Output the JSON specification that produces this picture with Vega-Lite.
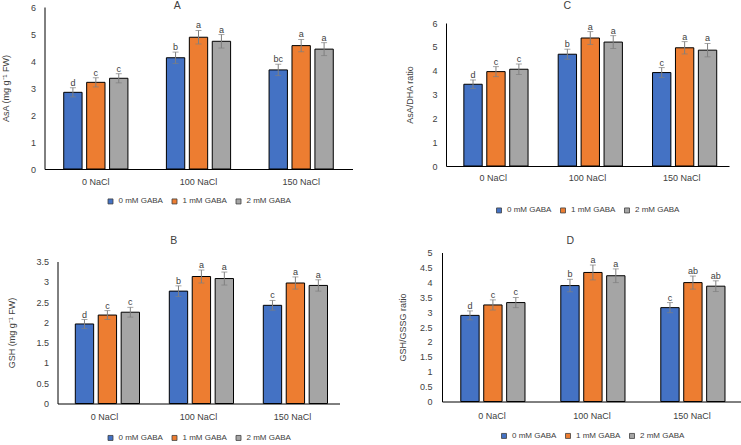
{
  "$schema": "https://vega.github.io/schema/vega-lite/v6.json",
  "padding": {"left": -52, "top": -1, "right": 0, "bottom": 0},
  "spacing": 19.5,
  "resolve": {"scale": {"color": "independent"}, "legend": {"color": "independent"}},
  "datasets": {
    "asa": [
      {"nacl": "0 NaCl", "gaba": "0 mM GABA", "mean": 2.84, "lo": 2.67, "hi": 3.01, "sig": "d"},
      {"nacl": "0 NaCl", "gaba": "1 mM GABA", "mean": 3.21, "lo": 3.04, "hi": 3.38, "sig": "c"},
      {"nacl": "0 NaCl", "gaba": "2 mM GABA", "mean": 3.36, "lo": 3.19, "hi": 3.53, "sig": "c"},
      {"nacl": "100 NaCl", "gaba": "0 mM GABA", "mean": 4.12, "lo": 3.91, "hi": 4.33, "sig": "b"},
      {"nacl": "100 NaCl", "gaba": "1 mM GABA", "mean": 4.88, "lo": 4.63, "hi": 5.13, "sig": "a"},
      {"nacl": "100 NaCl", "gaba": "2 mM GABA", "mean": 4.73, "lo": 4.48, "hi": 4.98, "sig": "a"},
      {"nacl": "150 NaCl", "gaba": "0 mM GABA", "mean": 3.67, "lo": 3.46, "hi": 3.88, "sig": "bc"},
      {"nacl": "150 NaCl", "gaba": "1 mM GABA", "mean": 4.57, "lo": 4.34, "hi": 4.80, "sig": "a"},
      {"nacl": "150 NaCl", "gaba": "2 mM GABA", "mean": 4.44, "lo": 4.20, "hi": 4.68, "sig": "a"}
    ],
    "asaDha": [
      {"nacl": "0 NaCl", "gaba": "0 mM GABA", "mean": 3.43, "lo": 3.25, "hi": 3.61, "sig": "d"},
      {"nacl": "0 NaCl", "gaba": "1 mM GABA", "mean": 3.96, "lo": 3.75, "hi": 4.17, "sig": "c"},
      {"nacl": "0 NaCl", "gaba": "2 mM GABA", "mean": 4.06, "lo": 3.84, "hi": 4.28, "sig": "c"},
      {"nacl": "100 NaCl", "gaba": "0 mM GABA", "mean": 4.69, "lo": 4.48, "hi": 4.90, "sig": "b"},
      {"nacl": "100 NaCl", "gaba": "1 mM GABA", "mean": 5.37, "lo": 5.10, "hi": 5.64, "sig": "a"},
      {"nacl": "100 NaCl", "gaba": "2 mM GABA", "mean": 5.20, "lo": 4.93, "hi": 5.47, "sig": "a"},
      {"nacl": "150 NaCl", "gaba": "0 mM GABA", "mean": 3.92, "lo": 3.71, "hi": 4.13, "sig": "c"},
      {"nacl": "150 NaCl", "gaba": "1 mM GABA", "mean": 4.96, "lo": 4.70, "hi": 5.22, "sig": "a"},
      {"nacl": "150 NaCl", "gaba": "2 mM GABA", "mean": 4.86, "lo": 4.58, "hi": 5.14, "sig": "a"}
    ],
    "gsh": [
      {"nacl": "0 NaCl", "gaba": "0 mM GABA", "mean": 1.96, "lo": 1.85, "hi": 2.07, "sig": "d"},
      {"nacl": "0 NaCl", "gaba": "1 mM GABA", "mean": 2.18, "lo": 2.07, "hi": 2.29, "sig": "c"},
      {"nacl": "0 NaCl", "gaba": "2 mM GABA", "mean": 2.25, "lo": 2.13, "hi": 2.37, "sig": "c"},
      {"nacl": "100 NaCl", "gaba": "0 mM GABA", "mean": 2.77, "lo": 2.64, "hi": 2.90, "sig": "b"},
      {"nacl": "100 NaCl", "gaba": "1 mM GABA", "mean": 3.13, "lo": 2.97, "hi": 3.29, "sig": "a"},
      {"nacl": "100 NaCl", "gaba": "2 mM GABA", "mean": 3.08, "lo": 2.92, "hi": 3.24, "sig": "a"},
      {"nacl": "150 NaCl", "gaba": "0 mM GABA", "mean": 2.42, "lo": 2.30, "hi": 2.54, "sig": "c"},
      {"nacl": "150 NaCl", "gaba": "1 mM GABA", "mean": 2.97, "lo": 2.82, "hi": 3.12, "sig": "a"},
      {"nacl": "150 NaCl", "gaba": "2 mM GABA", "mean": 2.91, "lo": 2.77, "hi": 3.05, "sig": "a"}
    ],
    "gshGssg": [
      {"nacl": "0 NaCl", "gaba": "0 mM GABA", "mean": 2.89, "lo": 2.74, "hi": 3.04, "sig": "d"},
      {"nacl": "0 NaCl", "gaba": "1 mM GABA", "mean": 3.24, "lo": 3.07, "hi": 3.41, "sig": "c"},
      {"nacl": "0 NaCl", "gaba": "2 mM GABA", "mean": 3.32, "lo": 3.15, "hi": 3.49, "sig": "c"},
      {"nacl": "100 NaCl", "gaba": "0 mM GABA", "mean": 3.89, "lo": 3.68, "hi": 4.10, "sig": "b"},
      {"nacl": "100 NaCl", "gaba": "1 mM GABA", "mean": 4.33, "lo": 4.08, "hi": 4.58, "sig": "a"},
      {"nacl": "100 NaCl", "gaba": "2 mM GABA", "mean": 4.22, "lo": 3.99, "hi": 4.45, "sig": "a"},
      {"nacl": "150 NaCl", "gaba": "0 mM GABA", "mean": 3.15, "lo": 2.98, "hi": 3.32, "sig": "c"},
      {"nacl": "150 NaCl", "gaba": "1 mM GABA", "mean": 3.99, "lo": 3.77, "hi": 4.21, "sig": "ab"},
      {"nacl": "150 NaCl", "gaba": "2 mM GABA", "mean": 3.87, "lo": 3.69, "hi": 4.05, "sig": "ab"}
    ]
  },
  "vconcat": [
    {
      "columns": 3,
      "align": "none",
      "spacing": {"row": 0, "column": 52.5},
      "resolve": {"scale": {"color": "independent"}, "legend": {"color": "independent"}},
      "concat": [
        {"width": 1, "height": 1, "data": {"values": []}, "mark": "point", "view": {"fill": "white", "stroke": null}},
        {"width": 1, "height": 1, "data": {"values": []}, "mark": "point", "view": {"fill": "white", "stroke": null}},
        {"width": 1, "height": 1, "data": {"values": []}, "mark": "point", "view": {"fill": "white", "stroke": null}},
        {"width": 1, "height": 1, "data": {"values": []}, "mark": "point", "view": {"fill": "white", "stroke": null}},
        {
          "width": 308, "height": 162,
          "data": {"name": "asa"},
          "title": {"text": "A", "frame": "bounds", "offset": -8},
          "encoding": {
            "x": {"field": "nacl", "type": "nominal", "sort": ["0 NaCl", "100 NaCl", "150 NaCl"],
                  "scale": {"paddingInner": 0.33, "paddingOuter": 0.165},
                  "axis": {"title": null, "labelAngle": 0, "labelPadding": 8.5}},
            "xOffset": {"field": "gaba", "type": "nominal", "scale": {"paddingInner": 0.2, "paddingOuter": 0.1}}
          },
          "layer": [
            {
              "mark": {"type": "bar", "stroke": "#000", "strokeWidth": 1},
              "encoding": {
                "y": {"field": "mean", "type": "quantitative", "scale": {"domain": [0, 6], "nice": false},
                      "axis": {"title": "AsA (mg g⁻¹ FW)", "values": [0, 1, 2, 3, 4, 5, 6], "titlePadding": 19.5}},
                "color": {"field": "gaba", "type": "nominal",
                          "scale": {"domain": ["0 mM GABA", "1 mM GABA", "2 mM GABA"], "range": ["#4472C4", "#ED7D31", "#A5A5A5"]},
                          "legend": {"offset": 9.5}}
              }
            },
            {
              "mark": {"type": "errorbar", "color": "#7F7F7F", "ticks": {"size": 6}},
              "encoding": {"y": {"field": "lo", "type": "quantitative",
                                 "axis": {"title": "AsA (mg g⁻¹ FW)", "values": [0, 1, 2, 3, 4, 5, 6], "titlePadding": 19.5}},
                           "y2": {"field": "hi"}}
            },
            {
              "mark": {"type": "text", "baseline": "alphabetic", "dy": -2},
              "encoding": {"y": {"field": "hi", "type": "quantitative",
                                 "axis": {"title": "AsA (mg g⁻¹ FW)", "values": [0, 1, 2, 3, 4, 5, 6], "titlePadding": 19.5}},
                           "text": {"field": "sig"}}
            }
          ]
        },
        {
          "width": 283, "height": 143,
          "data": {"name": "asaDha"},
          "title": {"text": "C", "frame": "bounds", "offset": 8},
          "encoding": {
            "x": {"field": "nacl", "type": "nominal", "sort": ["0 NaCl", "100 NaCl", "150 NaCl"],
                  "scale": {"paddingInner": 0.33, "paddingOuter": 0.165},
                  "axis": {"title": null, "labelAngle": 0, "labelPadding": 7.5}},
            "xOffset": {"field": "gaba", "type": "nominal", "scale": {"paddingInner": 0.2, "paddingOuter": 0.1}}
          },
          "layer": [
            {
              "mark": {"type": "bar", "stroke": "#000", "strokeWidth": 1},
              "encoding": {
                "y": {"field": "mean", "type": "quantitative", "scale": {"domain": [0, 6], "nice": false},
                      "axis": {"title": "AsA/DHA ratio", "values": [0, 1, 2, 3, 4, 5, 6], "titlePadding": 17.5}},
                "color": {"field": "gaba", "type": "nominal",
                          "scale": {"domain": ["0 mM GABA", "1 mM GABA", "2 mM GABA"], "range": ["#4472C4", "#ED7D31", "#A5A5A5"]},
                          "legend": {"offset": 22.5}}
              }
            },
            {
              "mark": {"type": "errorbar", "color": "#7F7F7F", "ticks": {"size": 6}},
              "encoding": {"y": {"field": "lo", "type": "quantitative",
                                 "axis": {"title": "AsA/DHA ratio", "values": [0, 1, 2, 3, 4, 5, 6], "titlePadding": 17.5}},
                           "y2": {"field": "hi"}}
            },
            {
              "mark": {"type": "text", "baseline": "alphabetic", "dy": -2},
              "encoding": {"y": {"field": "hi", "type": "quantitative",
                                 "axis": {"title": "AsA/DHA ratio", "values": [0, 1, 2, 3, 4, 5, 6], "titlePadding": 17.5}},
                           "text": {"field": "sig"}}
            }
          ]
        }
      ]
    },
    {
      "columns": 3,
      "align": "none",
      "spacing": {"row": 0, "column": 58.5},
      "resolve": {"scale": {"color": "independent"}, "legend": {"color": "independent"}},
      "concat": [
        {"width": 1, "height": 1, "data": {"values": []}, "mark": "point", "view": {"fill": "white", "stroke": null}},
        {"width": 1, "height": 1, "data": {"values": []}, "mark": "point", "view": {"fill": "white", "stroke": null}},
        {"width": 1, "height": 1, "data": {"values": []}, "mark": "point", "view": {"fill": "white", "stroke": null}},
        {"width": 1, "height": 1, "data": {"values": []}, "mark": "point", "view": {"fill": "white", "stroke": null}},
        {
          "width": 282, "height": 142,
          "data": {"name": "gsh"},
          "title": {"text": "B", "frame": "bounds", "offset": 11},
          "encoding": {
            "x": {"field": "nacl", "type": "nominal", "sort": ["0 NaCl", "100 NaCl", "150 NaCl"],
                  "scale": {"paddingInner": 0.33, "paddingOuter": 0.165},
                  "axis": {"title": null, "labelAngle": 0, "labelPadding": 8.5}},
            "xOffset": {"field": "gaba", "type": "nominal", "scale": {"paddingInner": 0.2, "paddingOuter": 0.1}}
          },
          "layer": [
            {
              "mark": {"type": "bar", "stroke": "#000", "strokeWidth": 1},
              "encoding": {
                "y": {"field": "mean", "type": "quantitative", "scale": {"domain": [0, 3.5], "nice": false},
                      "axis": {"title": "GSH (mg g⁻¹ FW)", "values": [0, 0.5, 1, 1.5, 2, 2.5, 3, 3.5], "format": "~g", "titlePadding": 19}},
                "color": {"field": "gaba", "type": "nominal",
                          "scale": {"domain": ["0 mM GABA", "1 mM GABA", "2 mM GABA"], "range": ["#4472C4", "#ED7D31", "#A5A5A5"]},
                          "legend": {"offset": 12}}
              }
            },
            {
              "mark": {"type": "errorbar", "color": "#7F7F7F", "ticks": {"size": 6}},
              "encoding": {"y": {"field": "lo", "type": "quantitative",
                                 "axis": {"title": "GSH (mg g⁻¹ FW)", "values": [0, 0.5, 1, 1.5, 2, 2.5, 3, 3.5], "format": "~g", "titlePadding": 19}},
                           "y2": {"field": "hi"}}
            },
            {
              "mark": {"type": "text", "baseline": "alphabetic", "dy": -2},
              "encoding": {"y": {"field": "hi", "type": "quantitative",
                                 "axis": {"title": "GSH (mg g⁻¹ FW)", "values": [0, 0.5, 1, 1.5, 2, 2.5, 3, 3.5], "format": "~g", "titlePadding": 19}},
                           "text": {"field": "sig"}}
            }
          ]
        },
        {
          "width": 300, "height": 149,
          "data": {"name": "gshGssg"},
          "title": {"text": "D", "frame": "bounds", "offset": 2},
          "encoding": {
            "x": {"field": "nacl", "type": "nominal", "sort": ["0 NaCl", "100 NaCl", "150 NaCl"],
                  "scale": {"paddingInner": 0.33, "paddingOuter": 0.165},
                  "axis": {"title": null, "labelAngle": 0, "labelPadding": 9.5}},
            "xOffset": {"field": "gaba", "type": "nominal", "scale": {"paddingInner": 0.2, "paddingOuter": 0.1}}
          },
          "layer": [
            {
              "mark": {"type": "bar", "stroke": "#000", "strokeWidth": 1},
              "encoding": {
                "y": {"field": "mean", "type": "quantitative", "scale": {"domain": [0, 5], "nice": false},
                      "axis": {"title": "GSH/GSSG ratio", "values": [0, 0.5, 1, 1.5, 2, 2.5, 3, 3.5, 4, 4.5, 5], "format": "~g", "labelPadding": 10, "titlePadding": 12}},
                "color": {"field": "gaba", "type": "nominal",
                          "scale": {"domain": ["0 mM GABA", "1 mM GABA", "2 mM GABA"], "range": ["#4472C4", "#ED7D31", "#A5A5A5"]},
                          "legend": {"offset": 11}}
              }
            },
            {
              "mark": {"type": "errorbar", "color": "#7F7F7F", "ticks": {"size": 6}},
              "encoding": {"y": {"field": "lo", "type": "quantitative",
                                 "axis": {"title": "GSH/GSSG ratio", "values": [0, 0.5, 1, 1.5, 2, 2.5, 3, 3.5, 4, 4.5, 5], "format": "~g", "labelPadding": 10, "titlePadding": 12}},
                           "y2": {"field": "hi"}}
            },
            {
              "mark": {"type": "text", "baseline": "alphabetic", "dy": -2},
              "encoding": {"y": {"field": "hi", "type": "quantitative",
                                 "axis": {"title": "GSH/GSSG ratio", "values": [0, 0.5, 1, 1.5, 2, 2.5, 3, 3.5, 4, 4.5, 5], "format": "~g", "labelPadding": 10, "titlePadding": 12}},
                           "text": {"field": "sig"}}
            }
          ]
        }
      ]
    }
  ],
  "config": {
    "font": "Liberation Sans",
    "view": {"stroke": null},
    "axis": {"labelFontSize": 9, "labelColor": "#404040", "titleFontSize": 9, "titleFontWeight": "normal", "titleColor": "#404040", "domainColor": "#000", "grid": false, "ticks": false, "labelPadding": 9},
    "title": {"fontSize": 10.5, "fontWeight": "normal", "color": "#404040"},
    "text": {"fontSize": 9, "color": "#404040"},
    "legend": {"orient": "bottom", "direction": "horizontal", "title": null, "labelFontSize": 8, "labelColor": "#404040", "symbolType": "square", "symbolSize": 25, "symbolStrokeColor": "#404040", "symbolStrokeWidth": 0.8, "columnPadding": 6, "labelOffset": 4, "layout": {"anchor": "middle"}}
  }
}
